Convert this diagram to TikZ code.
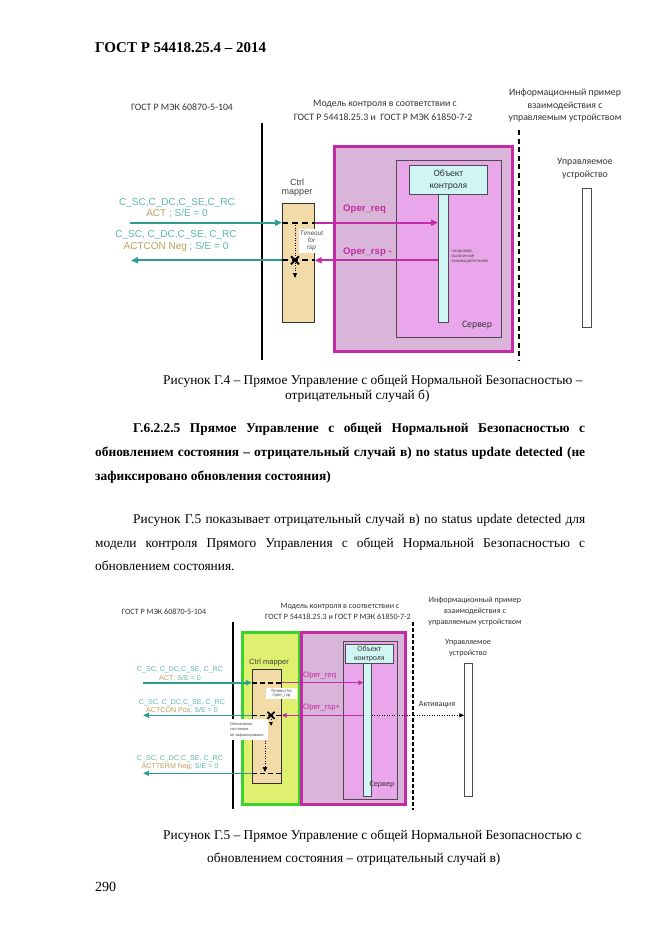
\documentclass[tikz,border=0pt]{standalone}
\usepackage{fontspec}
\setmainfont{Liberation Serif}
\newfontfamily\calf{Carlito}
\newfontfamily\arif{Liberation Sans}
\usetikzlibrary{arrows.meta,calc}
\definecolor{tealA}{HTML}{2E9C8E}
\definecolor{tealL}{HTML}{5DB6AF}
\definecolor{tanA}{HTML}{BE9E5C}
\definecolor{magA}{HTML}{C22AA6}
\definecolor{purpL}{HTML}{D9B5D9}
\definecolor{servF}{HTML}{EAA6EA}
\definecolor{cyanL}{HTML}{CFF6F4}
\definecolor{wheatA}{HTML}{F2DBA8}
\definecolor{greenF}{HTML}{DFF070}
\definecolor{greenB}{HTML}{3CD22C}
\definecolor{grayT}{HTML}{333333}
\tikzset{
  body/.style={inner sep=0pt,anchor=base west,font=\fontsize{13.4}{16}\selectfont},
  diagA/.style={inner sep=0pt,font=\calf\fontsize{9.8}{11}\selectfont,text=grayT},
  diagB/.style={inner sep=0pt,font=\calf\fontsize{8.1}{9}\selectfont,text=grayT},
  boxr/.style={draw=black!70,line width=0.7pt,inner sep=0pt,anchor=north west},
  outerbox/.style={boxr,draw=magA,line width=3pt,fill=purpL},
  servbox/.style={boxr,fill=servF},
  cyanbox/.style={boxr,fill=cyanL},
  mapbox/.style={boxr,draw=black!80,fill=wheatA},
  devbox/.style={boxr,fill=white},
  tealarr/.style={draw=tealA,line width=2pt,-{Triangle[length=7pt,width=6pt]}},
  tealarrB/.style={draw=tealA,line width=1.6pt,-{Triangle[length=6pt,width=5pt]}},
  magarr/.style={draw=magA,line width=2pt,-{Triangle[length=7pt,width=6pt]}},
  magarrB/.style={draw=magA,line width=1.5pt,-{Triangle[length=5pt,width=4.5pt]}},
  blkdash/.style={draw=black,line width=2.2pt,dash pattern=on 6pt off 4pt},
  blkdashB/.style={draw=black,line width=1.6pt,dash pattern=on 5pt off 3pt},
  dotline/.style={draw=black,line width=0.8pt,dash pattern=on 1pt off 1.5pt},
  lbl/.style={inner sep=0pt,font=\arif\fontsize{10}{11}\selectfont},
  lblB/.style={inner sep=0pt,font=\arif\fontsize{7.1}{8}\selectfont},
  tiny/.style={inner sep=0.5pt,font=\arif\fontsize{4.4}{5.2}\selectfont,align=left,text=black!70},
}
\begin{document}
\begin{tikzpicture}[x=1pt,y=-1pt]
\useasboundingbox[fill=white] (0,0) rectangle (661,935);

% ---------- header ----------
\node[body,font=\bfseries\fontsize{15}{18}\selectfont] (hdr) at (95,52) {ГОСТ Р 54418.25.4 – 2014};

% ================= Diagram 1 =================
\node[diagA] (d1a) at (182,107) {ГОСТ Р МЭК 60870-5-104};
\node[diagA] (d1b) at (385,104) {Модель контроля в соответствии с};
\node[diagA] (d1c) at (383,117) {ГОСТ Р 54418.25.3 и\ \ ГОСТ Р МЭК 61850-7-2};
\node[diagA] (d1d) at (565,93) {Информационный пример};
\node[diagA] (d1e) at (565,106) {взаимодействия с};
\node[diagA] (d1f) at (565,118) {управляемым устройством};

\coordinate (v1t) at (262,123);
\coordinate (v1b) at (262,360);
\draw[line width=1.6pt] (v1t) -- (v1b);

\node[outerbox,minimum width=178pt,minimum height=205pt] (out1) at (333,145) {};
\node[servbox,minimum width=105pt,minimum height=177pt] (srv1) at (396,160) {};
\node[cyanbox,minimum width=78pt,minimum height=29pt,align=center,font=\calf\fontsize{9.6}{11.5}\selectfont,text=grayT] (obj1) at (409,165) {Объект\\контроля};
\node[cyanbox,minimum width=10pt,minimum height=128pt] (bar1) at (438,194) {};
\node[diagA] (srvl1) at (477,325) {Сервер};
\node[tiny,anchor=north west] (ex1) at (451,249) {например,\\вызванные\\взаимодействием};

\coordinate (dv1t) at (519,130);
\coordinate (dv1b) at (519,360);
\draw[line width=2.2pt,dash pattern=on 5pt off 3.5pt] (dv1t) -- (dv1b);
\node[diagA] (dev1a) at (585,162) {Управляемое};
\node[diagA] (dev1b) at (585,175) {устройство};
\node[devbox,minimum width=9pt,minimum height=139pt] (dev1) at (582,188) {};

\node[lbl,font=\arif\fontsize{9}{10}\selectfont,text=black!75] (ctrl1) at (297,182) {Ctrl};
\node[lbl,font=\arif\fontsize{9}{10}\selectfont,text=black!75] (mapl1) at (297,193) {mapper};
\node[mapbox,minimum width=32pt,minimum height=119pt] (map1) at (282,203) {};

% teal messages
\coordinate (in1) at (130,222.7);
\coordinate (ou1) at (131,260.3);
\draw[tealarr] (in1) -- (in1 -| map1.west);
\draw[tealarr] (ou1 -| map1.west) -- (ou1);
\node[lbl,text=tealL] (m1a) at (177,203) {C\_SC,C\_DC,C\_SE,C\_RC};
\node[lbl] (m1b) at (177,214) {\textcolor{tanA}{ACT} \textcolor{tealL}{; S/E = 0}};
\node[lbl,text=tealL] (m2a) at (176,235) {C\_SC, C\_DC,C\_SE, C\_RC};
\node[lbl] (m2b) at (176,247) {\textcolor{tanA}{ACTCON Neg} \textcolor{tealL}{; S/E = 0}};

% magenta messages
\draw[magarr] (map1.east |- in1) -- (bar1.west |- in1);
\draw[magarr] (bar1.west |- ou1) -- (map1.east |- ou1);
\node[lbl,text=magA,font=\arif\bfseries\fontsize{9.6}{10}\selectfont,anchor=west] (req1) at (343,209) {Oper\_req};
\node[lbl,text=magA,font=\arif\bfseries\fontsize{9.6}{10}\selectfont,anchor=west] (rsp1) at (343,252) {Oper\_rsp -};

% inside mapper
\draw[blkdash] (map1.west |- in1) -- (map1.east |- in1);
\draw[blkdash] (map1.west |- ou1) -- (map1.east |- ou1);
\coordinate (tm1t) at (295,225);
\coordinate (tm1b) at (295,278);
\draw[dotline,-{Triangle[length=5pt,width=4pt]}] (tm1t) -- (tm1b);
\node[fill=white,inner sep=0.5pt,minimum width=22pt,minimum height=24pt,align=center,font=\arif\itshape\fontsize{6.4}{7.2}\selectfont,text=black!70] (to1) at (311.5,241) {Timeout\\for\\rsp};
\coordinate (x1) at (295,260.3);
\draw[line width=2pt] ($(x1)+(-4,-4)$) -- ($(x1)+(4,4)$);
\draw[line width=2pt] ($(x1)+(-4,4)$) -- ($(x1)+(4,-4)$);

% ---------- text block ----------
\node[body] (c4a) at (163,384) {Рисунок Г.4 – Прямое Управление с общей Нормальной Безопасностью –};
\node[body] (c4b) at (285,399) {отрицательный случай б)};
\node[body,font=\bfseries\fontsize{13.4}{16}\selectfont] (h1) at (133,432) {\makebox[452pt][s]{Г.6.2.2.5 Прямое Управление с общей Нормальной Безопасностью с}};
\node[body,font=\bfseries\fontsize{13.4}{16}\selectfont] (h2) at (95,456) {\makebox[490pt][s]{обновлением состояния – отрицательный случай в) no status update detected (не}};
\node[body,font=\bfseries\fontsize{13.4}{16}\selectfont] (h3) at (95,480) {зафиксировано обновления состояния)};
\node[body] (p1) at (133,523) {\makebox[452pt][s]{Рисунок Г.5 показывает отрицательный случай в) no status update detected для}};
\node[body] (p2) at (95,547) {\makebox[490pt][s]{модели контроля Прямого Управления с общей Нормальной Безопасностью с}};
\node[body] (p3) at (95,570) {обновлением состояния.};

% ================= Diagram 2 =================
\node[diagB] (d2a) at (164,612) {ГОСТ Р МЭК 60870-5-104};
\node[diagB] (d2b) at (340,607) {Модель контроля в соответствии с};
\node[diagB] (d2c) at (338,617) {ГОСТ Р 54418.25.3 и ГОСТ Р МЭК 61850-7-2};
\node[diagB] (d2d) at (475,600) {Информационный пример};
\node[diagB] (d2e) at (475,611) {взаимодействия с};
\node[diagB] (d2f) at (475,622) {управляемым устройством};

\coordinate (v2t) at (233,622);
\coordinate (v2b) at (233,809);
\draw[line width=1.3pt] (v2t) -- (v2b);

\node[boxr,draw=greenB,line width=3pt,fill=greenF,minimum width=57pt,minimum height=172pt] (grn2) at (241,631) {};
\node[lblB,font=\arif\fontsize{7.6}{8}\selectfont,text=black!75] (ctrl2) at (269,663) {Ctrl mapper};
\node[mapbox,minimum width=29pt,minimum height=114pt] (map2) at (252,669) {};

\node[outerbox,minimum width=104pt,minimum height=172pt] (out2) at (299.5,631) {};
\node[servbox,minimum width=54pt,minimum height=158pt] (srv2) at (343,641) {};
\node[cyanbox,minimum width=48pt,minimum height=19pt,align=center,font=\calf\fontsize{7.8}{8.6}\selectfont,text=grayT] (obj2) at (345,644) {Объект\\контроля};
\node[cyanbox,minimum width=7.5pt,minimum height=133pt] (bar2) at (363.3,663) {};
\node[diagB] (srvl2) at (382,785) {Сервер};

\coordinate (dv2t) at (413,622);
\coordinate (dv2b) at (413,810);
\draw[line width=1.1pt,dash pattern=on 4pt off 2pt] (dv2t) -- (dv2b);
\node[diagB] (dev2a) at (468,643) {Управляемое};
\node[diagB] (dev2b) at (468,653) {устройство};
\node[devbox,minimum width=7.5pt,minimum height=133pt] (dev2) at (464.3,663) {};

% teal messages
\coordinate (in2) at (143,682.7);
\coordinate (ou2) at (143,715.3);
\coordinate (ou3) at (143,773.3);
\draw[tealarrB] (in2) -- (in2 -| map2.west);
\draw[tealarrB] (ou2 -| map2.west) -- (ou2);
\draw[tealarrB] (ou3 -| map2.west) -- (ou3);
\node[lblB,text=tealL] (n1a) at (180,670) {C\_SC, C\_DC,C\_SE, C\_RC};
\node[lblB] (n1b) at (180,678) {\textcolor{tanA}{ACT}\textcolor{tealL}{; S/E = 0}};
\node[lblB,text=tealL] (n2a) at (182,703) {C\_SC, C\_DC,C\_SE, C\_RC};
\node[lblB] (n2b) at (182,710.5) {\textcolor{tanA}{ACTCON Pos}\textcolor{tealL}{; S/E = 0}};
\node[lblB,text=tealL] (n3a) at (180,759) {C\_SC, C\_DC,C\_SE, C\_RC};
\node[lblB] (n3b) at (180,766.5) {\textcolor{tanA}{ACTTERM Neg}\textcolor{tealL}{; S/E = 0}};

% magenta messages
\draw[magarrB] (map2.east |- in2) -- (bar2.west |- in2);
\draw[magarrB] (bar2.west |- ou2) -- (map2.east |- ou2);
\node[lblB,font=\arif\fontsize{7.8}{8}\selectfont,text=magA,anchor=west] (req2) at (303,676) {Oper\_req};
\node[lblB,font=\arif\fontsize{7.8}{8}\selectfont,text=magA,anchor=west] (rsp2) at (303,708) {Oper\_rsp+};
\draw[dotline,line width=1pt,-{Triangle[length=5pt,width=4pt]}] (bar2.east |- ou2) -- (dev2.west |- ou2);
\node[diagB] (act2) at (437,705) {Активация};

% inside mapper
\draw[blkdashB] (map2.west |- in2) -- (map2.east |- in2);
\draw[blkdashB] (map2.west |- ou2) -- (map2.east |- ou2);
\draw[blkdashB] (map2.west |- ou3) -- (map2.east |- ou3);
\node[fill=white,inner sep=0.5pt,minimum width=31pt,minimum height=11pt,align=center,font=\arif\fontsize{4.2}{4.8}\selectfont,text=black!70] (to2) at (281.5,693.5) {Timeout for\\Oper\_rsp};
\coordinate (x2) at (271,715.3);
\draw[line width=1.7pt] ($(x2)+(-3.5,-3.5)$) -- ($(x2)+(3.5,3.5)$);
\draw[line width=1.7pt] ($(x2)+(-3.5,3.5)$) -- ($(x2)+(3.5,-3.5)$);
\coordinate (tm2a) at (271,719);
\coordinate (tm2b) at (271,726);
\draw[dotline,-{Triangle[length=4pt,width=3.5pt]}] (tm2a) -- (tm2b);
\coordinate (tm2c) at (265,728);
\coordinate (tm2d) at (265,772);
\draw[dotline,-{Triangle[length=5pt,width=4.5pt]}] (tm2c) -- (tm2d);
\node[fill=white,inner sep=1pt,minimum width=43pt,minimum height=21pt,align=left,font=\arif\fontsize{3.9}{5.4}\selectfont,text=black!70,anchor=north west] (nt2) at (225,719) {Обновление\\состояния\\не зафиксировано};

% ---------- caption 2 ----------
\node[body] (c5a) at (163,839) {Рисунок Г.5 – Прямое Управление с общей Нормальной Безопасностью с};
\node[body] (c5b) at (207,862) {обновлением состояния – отрицательный случай в)};
\node[body,font=\fontsize{14}{16}\selectfont] (pg) at (95,891) {290};
\end{tikzpicture}
\end{document}
